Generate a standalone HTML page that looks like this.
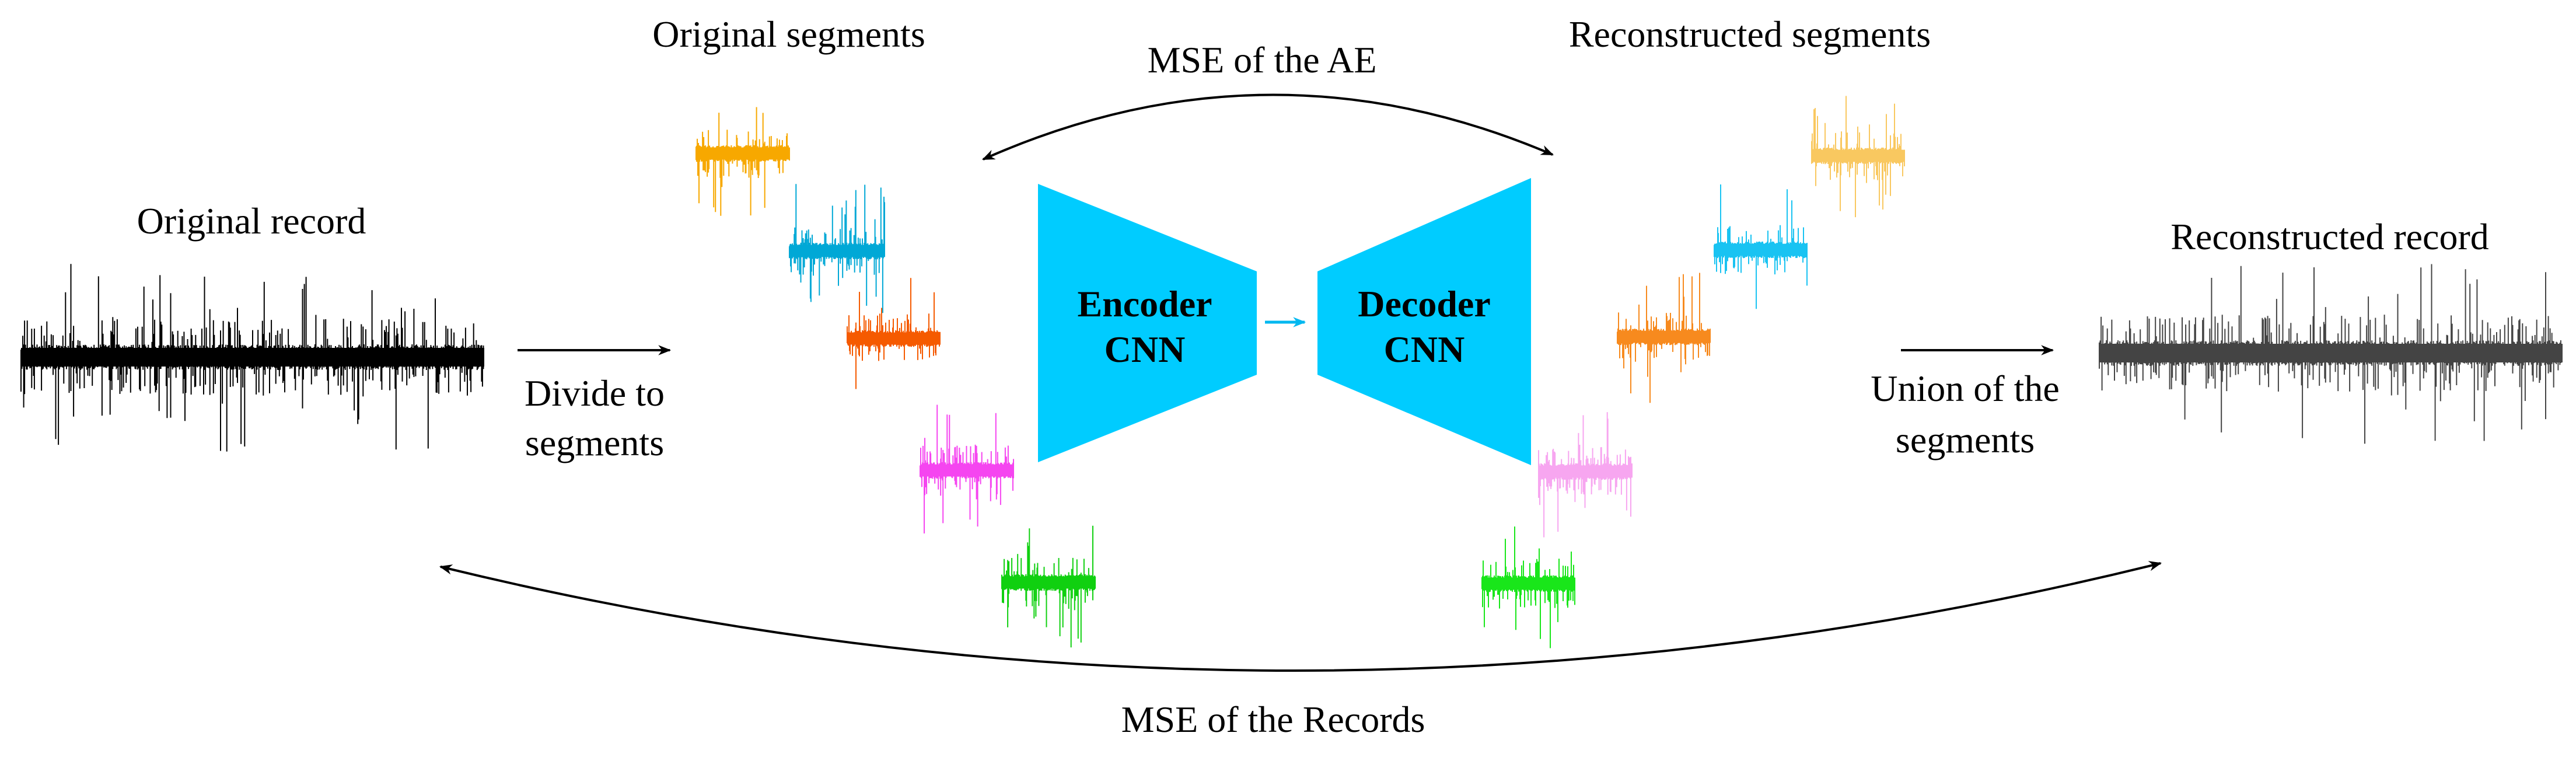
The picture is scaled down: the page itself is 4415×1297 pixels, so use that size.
<!DOCTYPE html>
<html><head><meta charset="utf-8"><style>
html,body{margin:0;padding:0;background:#fff;}
svg{display:block}
text{font-family:"Liberation Serif","Times New Roman","DejaVu Serif",serif;font-size:64px;fill:#000}
</style></head><body>
<svg id="s" width="4415" height="1297" viewBox="0 0 4415 1297" xmlns="http://www.w3.org/2000/svg" font-family="Liberation Serif, Times New Roman, serif">
<defs>
<marker id="a2" viewBox="0 0 10 10" markerWidth="22" markerHeight="22" refX="9" refY="5" orient="auto-start-reverse" markerUnits="userSpaceOnUse"><path d="M0,1 L10,5 L0,9 L3,5 z" fill="#000"/></marker>
<marker id="a3" viewBox="0 0 10 10" markerWidth="22" markerHeight="22" refX="9" refY="5" orient="auto-start-reverse" markerUnits="userSpaceOnUse"><path d="M0,1 L10,5 L0,9 L3,5 z" fill="#00b8f0"/></marker>
</defs>
<g id="sig"></g>
<g font-family="Liberation Serif, Times New Roman, serif">
<text x="431" y="400" text-anchor="middle">Original record</text>
<text x="1352" y="80" text-anchor="middle">Original segments</text>
<text x="2163" y="124" text-anchor="middle">MSE of the AE</text>
<text x="2999" y="80" text-anchor="middle">Reconstructed segments</text>
<text x="3993" y="427" text-anchor="middle">Reconstructed record</text>
<text x="1019" y="695" text-anchor="middle">Divide to</text>
<text x="1019" y="780" text-anchor="middle">segments</text>
<text x="3368" y="687" text-anchor="middle">Union of the</text>
<text x="3368" y="775" text-anchor="middle">segments</text>
<text x="2182" y="1254" text-anchor="middle">MSE of the Records</text>
</g>
<line x1="887" y1="600" x2="1148" y2="600" stroke="#000" stroke-width="4" marker-end="url(#a2)"/>
<line x1="3258" y1="600" x2="3518" y2="600" stroke="#000" stroke-width="4" marker-end="url(#a2)"/>
<path d="M1685,273 Q2173,56 2661,265" fill="none" stroke="#000" stroke-width="4" marker-start="url(#a2)" marker-end="url(#a2)"/>
<path d="M755,971 Q2229,1330 3703,965" fill="none" stroke="#000" stroke-width="4" marker-start="url(#a2)" marker-end="url(#a2)"/>
<polygon points="1779,315 2154,465 2154,642 1779,792" fill="#00ccff"/>
<polygon points="2258,465 2624,305 2624,797 2258,642" fill="#00ccff"/>
<line x1="2168" y1="552" x2="2236" y2="552" stroke="#00b8f0" stroke-width="5" marker-end="url(#a3)"/>
<g font-family="Liberation Serif, Times New Roman, serif" font-weight="bold">
<text x="1962" y="542" text-anchor="middle">Encoder</text>
<text x="1962" y="620" text-anchor="middle">CNN</text>
<text x="2441" y="542" text-anchor="middle">Decoder</text>
<text x="2441" y="620" text-anchor="middle">CNN</text>
</g>
</svg>
<script>
var seed=12345;function r(){seed=(seed*16807)%2147483647;return seed/2147483647;}
var g=document.getElementById('sig');var NS="http://www.w3.org/2000/svg";
function sig(x0,x1,yc,col,band,amp,n,sw,pb,pm){
 var d="";var step=(x1-x0)/n;
 for(var i=0;i<n;i++){var x=(x0+i*step).toFixed(1);var a=band*(0.6+0.5*r());var b=band*(0.6+0.5*r());
  var p=r();if(p<pb){a=amp*(0.35+0.65*r());}else if(p<pm){a=band*(1.3+2*r());}
  p=r();if(p<pb){b=amp*(0.35+0.65*r());}else if(p<pm){b=band*(1.3+2*r());}
  d+="M"+x+","+(yc-a).toFixed(1)+"V"+(yc+b).toFixed(1);}
 var pa=document.createElementNS(NS,"path");pa.setAttribute("d",d);pa.setAttribute("stroke",col);pa.setAttribute("stroke-width",sw);pa.setAttribute("fill","none");g.appendChild(pa);
 var rc=document.createElementNS(NS,"rect");rc.setAttribute("x",x0);rc.setAttribute("y",yc-band*0.8);rc.setAttribute("width",x1-x0);rc.setAttribute("height",band*1.6);rc.setAttribute("fill",col);g.appendChild(rc);}
sig(36,830,612,"#000",20,165,520,2,0.04,0.25);
sig(3598,4392,605,"#444",20,160,520,2,0.04,0.25);
var L=[[1193,1354,263,"#f7a800"],[1353,1517,430,"#00a8d6"],[1452,1612,580,"#f55a00"],[1577,1738,806,"#f545f0"],[1717,1878,998,"#10d010"]];
var R=[[3105,3265,267,"#f9c860"],[2938,3098,428,"#19c3f2"],[2772,2932,577,"#f78a1e"],[2637,2798,808,"#f7a6f0"],[2540,2700,1000,"#19e61a"]];
L.concat(R).forEach(function(s){sig(s[0],s[1],s[2],s[3],13,115,160,2,0.04,0.2);});
</script>
</body></html>
